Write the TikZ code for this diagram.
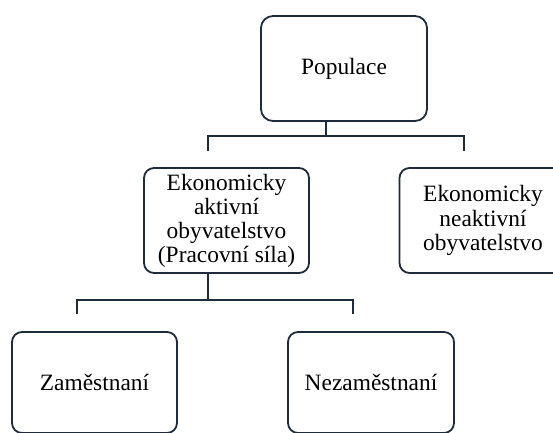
\documentclass[tikz,border=0pt]{standalone}
\usepackage{fontspec}
\setmainfont{Liberation Serif}
\usetikzlibrary{positioning}
\definecolor{linecol}{HTML}{1E2B3B}
\tikzset{
box/.style={ % boxes of the tree
draw=linecol,
line width=1.8pt,
rounded corners=10pt,
align=center,
inner sep=2pt,
font=\fontsize{23.4}{24}\selectfont},
link/.style={ % tree connectors
draw=linecol,
line width=2pt}}

\begin{document}
\begin{tikzpicture}[x=1pt,y=-1pt]
	\clip (0,0) rectangle (553,432);
	\node[box, rounded corners=12pt, minimum width=166pt, minimum height=105pt] (pop) at (344,68.5) {Populace};
	\node[box, minimum width=165pt, minimum height=105pt] (act) at (226.5,220.5) {Ekonomicky\\aktivní\\obyvatelstvo\\(Pracovní síla)};
	\node[box, minimum width=167pt, minimum height=105pt, font=\fontsize{23.4}{24.5}\selectfont] (inact) at (483,220.5) {Ekonomicky\\neaktivní\\obyvatelstvo};
	\node[box, minimum width=165pt, minimum height=101pt] (zam) at (94.5,382.5) {Zaměstnaní};
	\node[box, minimum width=166pt, minimum height=101pt] (nez) at (371,382.5) {Nezaměstnaní};
	% first branching
	\coordinate (j1) at (326,136);
	\coordinate (l1) at (208,151);
	\coordinate (r1) at (464,151);
	\draw[link] (pop.south -| j1) -- (j1);
	\draw[link] (l1) |- (r1 |- j1) -- (r1);
	% second branching
	\coordinate (j2) at (208,300);
	\coordinate (l2) at (77,314);
	\coordinate (r2) at (353,314);
	\draw[link] (act.south -| j2) -- (j2);
	\draw[link] (l2) |- (r2 |- j2) -- (r2);
\end{tikzpicture}
\end{document}
